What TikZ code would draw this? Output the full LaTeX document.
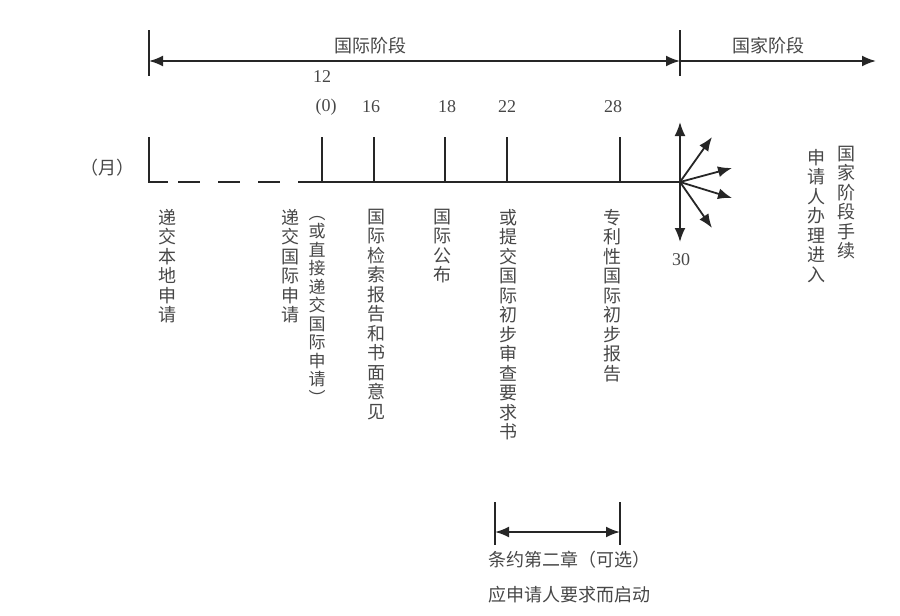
\documentclass[tikz,border=0pt]{standalone}
\usepackage{fontspec}
\setmainfont{Liberation Serif}
\newfontfamily\cjk{Noto Sans CJK SC}
\usetikzlibrary{arrows.meta,positioning}

\begin{document}
\begin{tikzpicture}[x=1pt, y=-1pt, >={Latex[length=14pt,width=11pt]}, line width=2pt, draw=black!85]
\tikzset{
  vlabel/.style={anchor=north, inner sep=0pt, align=center, text=black!72, font=\cjk\fontsize{18}{19.5}\selectfont},
  hlabel/.style={inner sep=0pt, text=black!72, font=\cjk\fontsize{18}{20}\selectfont},
  num/.style={inner sep=0pt, text=black!72, font=\fontsize{18}{20}\selectfont}
}
\useasboundingbox (0,0) rectangle (900,616);

% phases
\coordinate (pL) at (149,61);
\coordinate (pM) at (680,61);
\coordinate (pR) at (876,61);
\draw ([yshift=31pt]pL) -- ([yshift=-15pt]pL);
\draw ([yshift=31pt]pM) -- ([yshift=-15pt]pM);
\draw[<->] (pL) -- (pM);
\draw[->] (pM) -- (pR);
\node[hlabel] (intl) at (370,46) {国际阶段};
\node[hlabel] (natl) at (768,46) {国家阶段};

% time line (months)
\coordinate (m0)  at (149,182);
\coordinate (m12) at (322,182);
\coordinate (m16) at (374,182);
\coordinate (m18) at (445,182);
\coordinate (m22) at (507,182);
\coordinate (m28) at (620,182);
\coordinate (m30) at (680,182);
\draw ([yshift=45pt]m0) -- (m0) -- ([xshift=19pt]m0);
\draw[dash pattern=on 22pt off 18pt] ([xshift=29pt]m0) -- ([xshift=-19pt]m12);
\draw ([xshift=-19pt]m12) -- (m30);
\foreach \m in {m12,m16,m18,m22,m28}
  \draw (\m) -- ([yshift=45pt]\m);

\node[hlabel] (month) at (107,168) {（月）};
\node[num] (n12) at (322,77)  {12};
\node[num] (n0)  at (326,107) {(0)};
\node[num] (n16) at (371,107) {16};
\node[num] (n18) at (447,107) {18};
\node[num] (n22) at (507,107) {22};
\node[num] (n28) at (613,107) {28};
\node[num] (n30) at (681,260) {30};

% entry into national phase
\coordinate (up) at (680,122);
\coordinate (dn) at (680,242);
\coordinate (a1) at (712,137);
\coordinate (a2) at (732,168);
\coordinate (a3) at (732,198);
\coordinate (a4) at (712,228);
\foreach \t in {up,dn,a1,a2,a3,a4}
  \draw[->, line width=1.8pt] (m30) -- (\t);

% events
\node[vlabel] (loc)  at (167,208) {递\\交\\本\\地\\申\\请};
\node[vlabel] (pct)  at (290,208) {递\\交\\国\\际\\申\\请};
\node[vlabel, font=\cjk\fontsize{17}{18.5}\selectfont] (dir) at (317,215) {︵\\或\\直\\接\\递\\交\\国\\际\\申\\请\\︶};
\node[vlabel] (isr)  at (376,208) {国\\际\\检\\索\\报\\告\\和\\书\\面\\意\\见};
\node[vlabel] (pub)  at (442,208) {国\\际\\公\\布};
\node[vlabel] (dem)  at (508,208) {或\\提\\交\\国\\际\\初\\步\\审\\查\\要\\求\\书};
\node[vlabel] (iprp) at (612,208) {专\\利\\性\\国\\际\\初\\步\\报\\告};
\node[vlabel] (ent1) at (846,145) {国\\家\\阶\\段\\手\\续};
\node[vlabel] (ent2) at (816,148) {申\\请\\人\\办\\理\\进\\入};

% chapter II
\coordinate (c1) at (495,532);
\coordinate (c2) at (620,532);
\draw ([yshift=30pt]c1) -- ([yshift=-13pt]c1);
\draw ([yshift=30pt]c2) -- ([yshift=-13pt]c2);
\draw[<->] (c1) -- (c2);
\node[hlabel, anchor=west] (ch2)  at (487,560) {条约第二章（可选）};
\node[hlabel, anchor=west] (dem2) at (487,595) {应申请人要求而启动};
\end{tikzpicture}
\end{document}
